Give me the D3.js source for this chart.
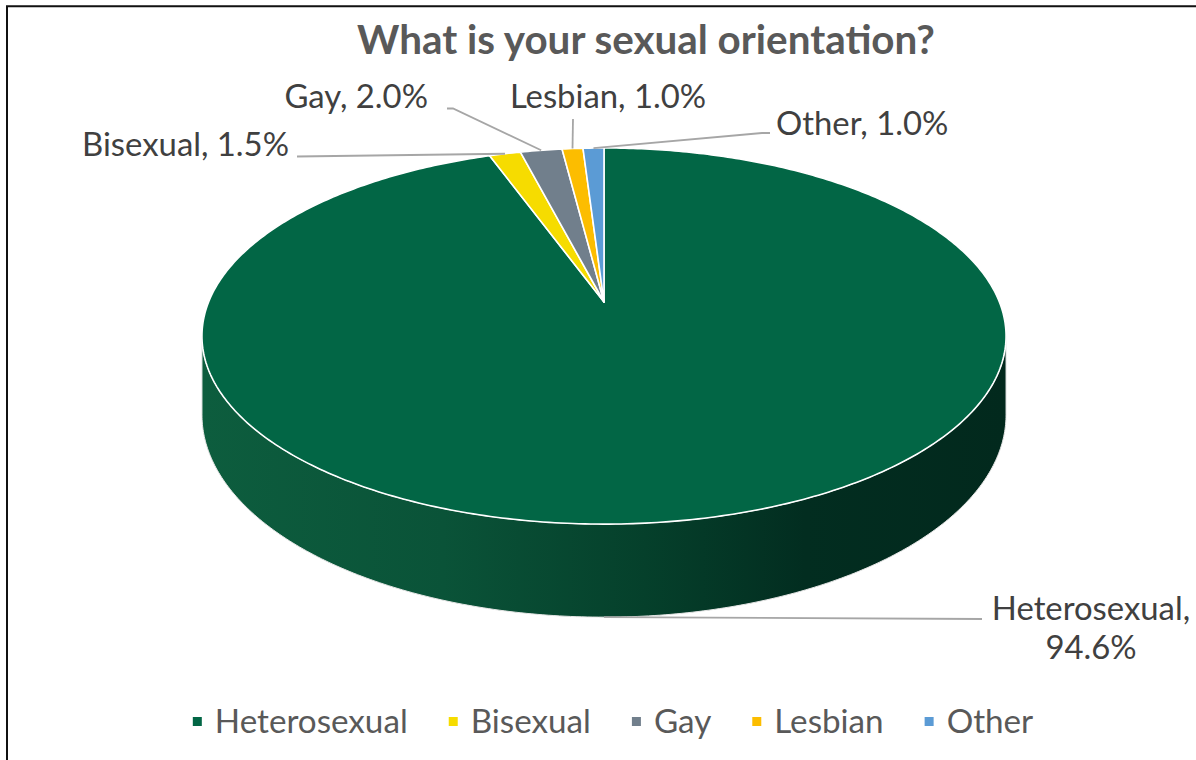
<!DOCTYPE html>
<html><head><meta charset="utf-8">
<script src="https://cdn.jsdelivr.net/npm/d3@7"></script>
<style>body{margin:0;background:#fff;} svg{display:block;}</style>
</head><body><svg id="c" width="1196" height="760"></svg>
<script>
// ---- data ----
const categories = ["Heterosexual", "Bisexual", "Gay", "Lesbian", "Other"];
const values = [94.6, 1.5, 2.0, 1.0, 1.0];
const chartTitle = "What is your sexual orientation?";

// ---- style / layout ----
const colors = ["#026645", "#f6dc00", "#717f8c", "#fcbd00", "#5b9bd5"];
const FONT = "Lato, 'Noto Sans', sans-serif";
const cx = 604, cy = 302;
const P = 0.181, KX = 395.4, KY = 181.9, KH = 76.2;

const svg = d3.select("#c");
const sx = d3.scaleLinear().domain([-1, 1]).range([cx - KX, cx + KX]);
const sy = d3.scaleLinear().domain([-1, 1]).range([cy - KY, cy + KY]);
function proj(theta, h = 0) {
  const X = Math.sin(theta), Y = -Math.cos(theta);
  const w = 1 - P * Y;
  return [sx(X / w), sy(Y / w) + KH * h / w];
}
const data = categories.map((c, i) => ({cat: c, value: values[i], color: colors[i]}));
const arcs = d3.pie().sort(null).value(d => d.value)(data);
const fmt = v => d3.format(".1f")(v) + "%";

// frame (top + left edges)
svg.append("path").attr("d", "M7,760 L7,6.3 L1196,6.3").attr("fill", "none")
  .attr("stroke", "#111").attr("stroke-width", 2);

// gradient for side wall
const t1 = Math.acos(-P), t2 = 2 * Math.PI - t1;
const defs = svg.append("defs");
const g = defs.append("linearGradient").attr("id", "side").attr("gradientUnits", "userSpaceOnUse")
  .attr("x1", proj(t2)[0]).attr("x2", proj(t1)[0]).attr("y1", 0).attr("y2", 0);
[[0, "#0d5d3e"], [0.3, "#0a5338"], [0.55, "#05402b"], [0.75, "#022d20"], [1, "#02291d"]]
  .forEach(([o, c]) => g.append("stop").attr("offset", o).attr("stop-color", c));

// side wall
const N = 240;
const topPts = d3.range(N + 1).map(i => proj(t1 + (t2 - t1) * i / N, 0));
const botPts = d3.range(N + 1).map(i => proj(t1 + (t2 - t1) * i / N, 1)).reverse();
svg.append("path").attr("d", d3.line()(topPts.concat(botPts)) + "Z")
  .attr("fill", "url(#side)").attr("stroke", "#e6e6e6").attr("stroke-width", 1);

// top face slices
arcs.forEach(a => {
  const n = Math.max(4, Math.ceil((a.endAngle - a.startAngle) * 80));
  const pts = [[cx, cy]].concat(d3.range(n + 1).map(i => proj(a.startAngle + (a.endAngle - a.startAngle) * i / n)));
  svg.append("path").attr("d", d3.line()(pts) + "Z")
    .attr("fill", a.data.color).attr("stroke", "#fff").attr("stroke-width", 1.6)
    .attr("stroke-linejoin", "round");
});

// title
const titleT = svg.append("text").attr("x", 646).attr("y", 54).attr("text-anchor", "middle")
  .attr("font-family", FONT).attr("font-weight", "bold").attr("fill", "#595959")
  .attr("font-size", 32).text(chartTitle);
function fitSize(txt, bold, target, base) {
  const t = svg.append("text").attr("font-family", FONT).attr("font-size", base)
    .attr("font-weight", bold ? "bold" : "normal").text(txt);
  const w = t.node().getComputedTextLength(); t.remove();
  return base * target / w;
}
titleT.attr("font-size", fitSize(chartTitle, true, 578, 32));

// data labels
const labelSize = fitSize("Bisexual, 1.5%", false, 207, 28);
const labelLayout = {
  Heterosexual: {x: 1091, y: 620, anchor: "middle", split: true, leader: [[982, 619]], tip: "bottom"},
  Bisexual: {x: 289, y: 156, anchor: "end", leader: [[297, 156.5]]},
  Gay: {x: 428, y: 108, anchor: "end", leader: [[447, 108.5], [453, 108.5]]},
  Lesbian: {x: 608, y: 108, anchor: "middle", leader: [[573, 119]]},
  Other: {x: 776, y: 135, anchor: "start", leader: [[770, 133], [762, 133]]}
};
arcs.forEach(a => {
  const L = labelLayout[a.data.cat];
  const mid = (a.startAngle + a.endAngle) / 2;
  const tip = L.tip === "bottom" ? proj(Math.PI, 1) : proj(mid, 0);
  const pts = L.leader.concat([tip]);
  svg.append("path").attr("d", d3.line()(pts)).attr("fill", "none")
    .attr("stroke", "#a6a6a6").attr("stroke-width", 1.8);
  const t = svg.append("text").attr("x", L.x).attr("y", L.y).attr("text-anchor", L.anchor)
    .attr("font-family", FONT).attr("font-size", labelSize).attr("fill", "#404040");
  if (L.split) {
    t.append("tspan").attr("x", L.x).text(a.data.cat + ",");
    t.append("tspan").attr("x", L.x).attr("dy", 39).text(fmt(a.data.value));
  } else {
    t.text(a.data.cat + ", " + fmt(a.data.value));
  }
});

// legend
const legSize = fitSize("Heterosexual", false, 193, 28);
const lg = svg.append("g");
let x = 0;
data.forEach(d => {
  lg.append("rect").attr("x", x).attr("y", -5).attr("width", 9).attr("height", 9).attr("fill", d.color);
  const t = lg.append("text").attr("x", x + 22).attr("y", 11).attr("font-family", FONT)
    .attr("font-size", legSize).attr("fill", "#595959").text(d.cat);
  x = x + 22 + t.node().getComputedTextLength() + 41;
});
const total = x - 41;
lg.attr("transform", `translate(${613 - total / 2},722)`);
</script></body></html>
